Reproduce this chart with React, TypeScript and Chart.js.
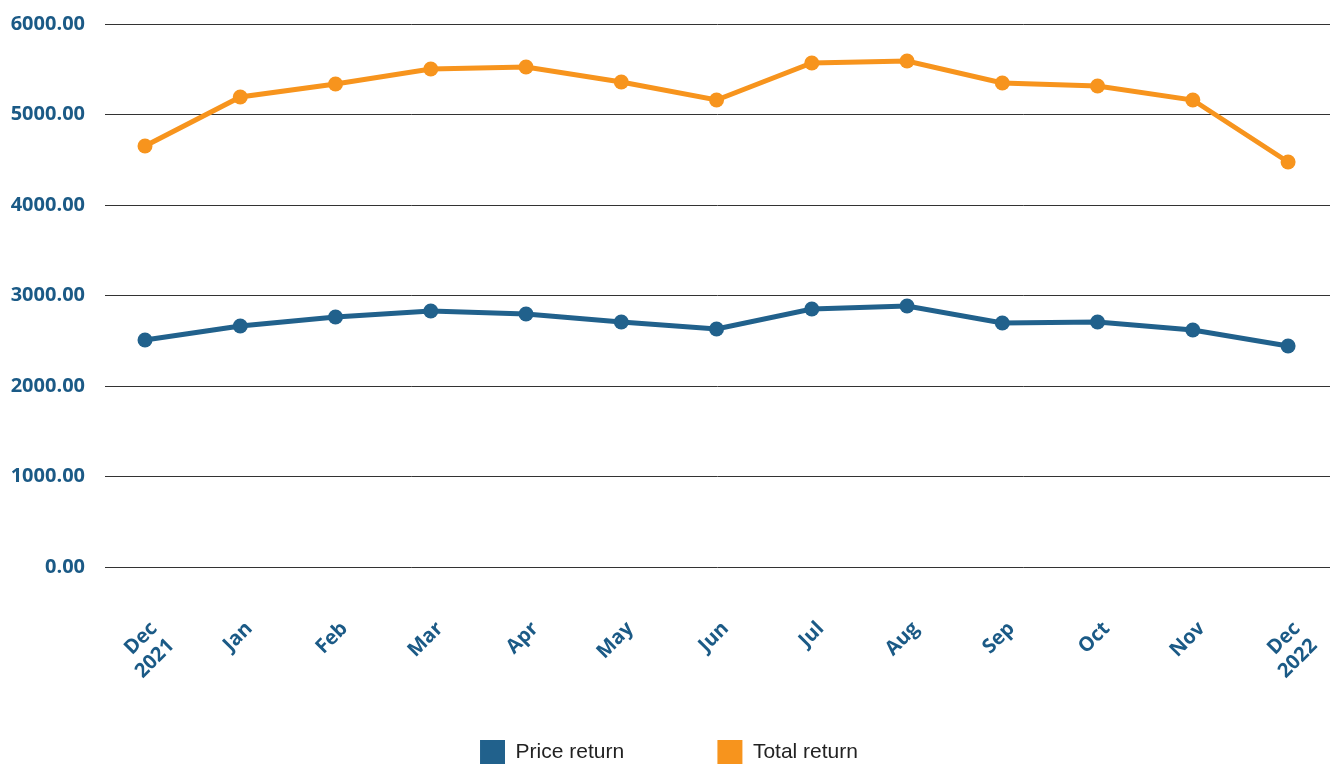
import React, { useEffect, useRef } from "react";
import { Chart, registerables } from "chart.js";

Chart.register(...registerables);

const xLabels: (string | string[])[] = [
  ["Dec", "2021"], "Jan", "Feb", "Mar", "Apr", "May", "Jun", "Jul", "Aug", "Sep", "Oct", "Nov", ["Dec", "2022"],
];
const priceReturn = [2508, 2663, 2762, 2829, 2796, 2707, 2630, 2851, 2884, 2696, 2707, 2619, 2442];
const totalReturn = [4652, 5193, 5337, 5503, 5525, 5359, 5160, 5569, 5591, 5348, 5315, 5160, 4475];
const seriesNames = ["Price return", "Total return"];

const BLUE = "#21618C";
const ORANGE = "#F7941D";
const TICK = "#1B5A86";
const TICK_FONT = { family: "'Open Sans', sans-serif", size: 20, weight: "bold" as const };

export default function App() {
  const ref = useRef<HTMLCanvasElement>(null);
  useEffect(() => {
    if (!ref.current) return;
    const toPts = (arr: number[]) => arr.map((v, i) => ({ x: i, y: v }));
    const chart = new Chart(ref.current, {
      type: "line",
      data: {
        datasets: [
          {
            label: seriesNames[0],
            data: toPts(priceReturn),
            borderColor: BLUE,
            backgroundColor: BLUE,
            borderWidth: 5,
            pointRadius: 7.5,
            pointBackgroundColor: BLUE,
            pointBorderWidth: 0,
            tension: 0,
          },
          {
            label: seriesNames[1],
            data: toPts(totalReturn),
            borderColor: ORANGE,
            backgroundColor: ORANGE,
            borderWidth: 5,
            pointRadius: 7.5,
            pointBackgroundColor: ORANGE,
            pointBorderWidth: 0,
            tension: 0,
          },
        ],
      },
      options: {
        animation: false,
        responsive: true,
        maintainAspectRatio: false,
        layout: { padding: { top: 24, right: 8, left: 8, bottom: -11 } },
        plugins: {
          tooltip: { enabled: false },
          legend: {
            position: "bottom",
            labels: {
              boxWidth: 25,
              boxHeight: 25,
              padding: 0,
              color: "#222",
              font: { family: "'Liberation Sans', Arial, sans-serif", size: 21 },
              generateLabels: (c: any) => {
                const base = Chart.defaults.plugins.legend.labels.generateLabels(c);
                return base.map((l: any, i: number) => ({
                  ...l,
                  text: i === 0 ? l.text + "                " : l.text,
                  lineWidth: 0,
                }));
              },
            },
          },
        },
        scales: {
          x: {
            type: "linear",
            min: -0.42,
            max: 12.44,
            grid: { display: false },
            border: { display: false },
            afterBuildTicks: (s: any) => {
              s.ticks = xLabels.map((_, i) => ({ value: i }));
            },
            afterFit: (s: any) => {
              s.height = 173;
              s.paddingLeft = 0;
              s.paddingRight = 0;
            },
            ticks: {
              autoSkip: false,
              minRotation: 45,
              maxRotation: 45,
              padding: 42,
              labelOffset: 9,
              color: TICK,
              font: TICK_FONT,
              callback: (v: any) => xLabels[v as number],
            },
          },
          y: {
            min: 0,
            max: 6000,
            afterFit: (s: any) => {
              s.width = 97;
              s.paddingTop = 0;
              s.paddingBottom = 0;
            },
            border: { display: false },
            grid: { color: "#333", lineWidth: 1, drawTicks: false },
            ticks: {
              stepSize: 1000,
              padding: 20,
              color: TICK,
              font: TICK_FONT,
              callback: (v: any) => Number(v).toFixed(2),
            },
          },
        },
      },
    });
    return () => chart.destroy();
  }, []);
  return (
    <div style={{ position: "fixed", left: 0, top: 0, width: 1338, height: 764, background: "#fff" }}>
      <canvas ref={ref} />
    </div>
  );
}
